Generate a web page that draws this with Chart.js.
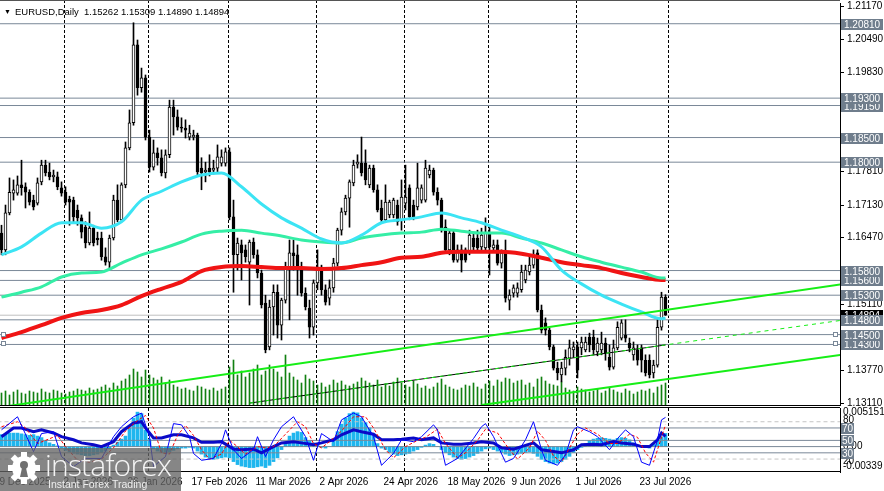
<!DOCTYPE html>
<html>
<head>
<meta charset="utf-8">
<title>EURUSD Daily</title>
<script src="https://cdn.jsdelivr.net/npm/chart.js@4.4.1/dist/chart.umd.min.js"></script>
<style>
  html, body { margin: 0; padding: 0; background: #fff; }
  #wrap { position: relative; width: 884px; height: 491px; overflow: hidden; background: #fff; font-family: "Liberation Sans", Arial, sans-serif; }
  #mainChart { position: absolute; left: 0; top: 0; }
  #subChart { position: absolute; left: 0; top: 406px; }
  #title { position: absolute; left: 4px; top: 6px; font-size: 9.5px; color: #000; white-space: pre; }
  #title .arrow { font-size: 7px; vertical-align: 1px; margin-right: 4px; }
  #logo { position: absolute; left: 0; top: 448px; width: 181px; height: 43px; background: rgba(100, 100, 100, 0.78); color: #fff; }
  #logo svg { position: absolute; left: 7px; top: 3px; }
  #logo .big { position: absolute; left: 45px; top: -4px; font-family: "Open Sans", sans-serif; font-weight: 300; font-size: 30px; letter-spacing: -0.8px; color: #f4f4f4; }
  #logo .small { position: absolute; left: 48px; top: 30px; font-size: 10.5px; color: #eee; }
</style>
</head>
<body>
<div id="wrap">
  <canvas id="mainChart" width="884" height="407"></canvas>
  <canvas id="subChart" width="884" height="85"></canvas>
  <div id="title"><span class="arrow">&#9660;</span>EURUSD,Daily  1.15262 1.15309 1.14890 1.14894</div>
  <div id="logo">
    <svg width="34" height="34" viewBox="0 0 34 34">
      <g fill="#fff" transform="translate(17 17)">
        <circle r="12"/>
        <rect x="-3" y="-16" width="6" height="6"/>
        <rect x="-3" y="10" width="6" height="6"/>
        <rect x="-16" y="-3" width="6" height="6"/>
        <rect x="10" y="-3" width="6" height="6"/>
        <rect x="-3" y="-16" width="6" height="6" transform="rotate(45)"/>
        <rect x="-3" y="10" width="6" height="6" transform="rotate(45)"/>
        <rect x="-16" y="-3" width="6" height="6" transform="rotate(45)"/>
        <rect x="10" y="-3" width="6" height="6" transform="rotate(45)"/>
      </g>
      <g fill="#707070" transform="translate(17 17)">
        <circle cy="-3" r="4"/>
        <path d="M-2 0 L2 0 L4 9 L-4 9 Z"/>
      </g>
    </svg>
    <div class="big">instaforex</div>
    <div class="small">Instant Forex Trading</div>
  </div>
</div>
<script>
// x axis: one bar per trading day, labels every 16 bars
const dateBars = [0, 16, 32, 48, 64, 80, 96, 112, 128, 144, 160];
const dateLabels = ["9 Dec 2025", "2 Jan 2026", "26 Jan 2026", "17 Feb 2026", "11 Mar 2026", "2 Apr 2026",
    "24 Apr 2026", "18 May 2026", "9 Jun 2026", "1 Jul 2026", "23 Jul 2026"];
const monthBars = [16, 37, 57, 79, 101, 122, 144, 167];

const priceTicks = [1.2117, 1.2049, 1.1983, 1.1915, 1.1849, 1.1781, 1.1713, 1.1647, 1.1579, 1.1511, 1.1445, 1.1377, 1.1311];
const levels = [1.1430, 1.1450, 1.1480, 1.1530, 1.1560, 1.1580, 1.1800, 1.1850, 1.1915, 1.1930, 1.2081];
const markedLevels = [1.1450, 1.1430];

const open = [
    1.1656, 1.1622, 1.1697, 1.1737, 1.1737, 1.1754, 1.1750, 1.1739, 1.1723, 1.1717,
    1.1760, 1.1794, 1.1780, 1.1770, 1.1770, 1.1748, 1.1739, 1.1725, 1.1723, 1.1703,
    1.1687, 1.1668, 1.1636, 1.1666, 1.1646, 1.1646, 1.1608, 1.1597, 1.1646, 1.1723,
    1.1683, 1.1754, 1.1829, 1.1880, 1.2038, 1.1951, 1.1971, 1.1851, 1.1790, 1.1819,
    1.1809, 1.1778, 1.1815, 1.1912, 1.1892, 1.1871, 1.1869, 1.1851, 1.1851, 1.1855,
    1.1788, 1.1780, 1.1788, 1.1784, 1.1788, 1.1798, 1.1798, 1.1821, 1.1689, 1.1612,
    1.1632, 1.1622, 1.1597, 1.1638, 1.1612, 1.1575, 1.1514, 1.1425, 1.1506, 1.1536,
    1.1469, 1.1520, 1.1585, 1.1616, 1.1612, 1.1587, 1.1534, 1.1504, 1.1465, 1.1555,
    1.1587, 1.1541, 1.1524, 1.1545, 1.1595, 1.1662, 1.1699, 1.1727, 1.1758, 1.1796,
    1.1798, 1.1798, 1.1754, 1.1788, 1.1744, 1.1707, 1.1683, 1.1693, 1.1693, 1.1713,
    1.1683, 1.1717, 1.1748, 1.1713, 1.1709, 1.1723, 1.1723, 1.1774, 1.1784, 1.1739,
    1.1723, 1.1668, 1.1622, 1.1656, 1.1601, 1.1622, 1.1622, 1.1618, 1.1646, 1.1646,
    1.1628, 1.1626, 1.1656, 1.1626, 1.1632, 1.1595, 1.1616, 1.1520, 1.1534, 1.1534,
    1.1541, 1.1561, 1.1577, 1.1591, 1.1616, 1.1500, 1.1474, 1.1459, 1.1425, 1.1382,
    1.1368, 1.1382, 1.1402, 1.1419, 1.1425, 1.1423, 1.1419, 1.1445, 1.1445, 1.1415,
    1.1419, 1.1433, 1.1404, 1.1384, 1.1423, 1.1443, 1.1449, 1.1433, 1.1409, 1.1419,
    1.1423, 1.1398, 1.1398, 1.1372, 1.1388, 1.1465, 1.15262
];
const high = [
    1.1672, 1.1713, 1.1768, 1.1764, 1.1772, 1.1804, 1.1758, 1.1744, 1.1733, 1.1768,
    1.1804, 1.1804, 1.1798, 1.1784, 1.1780, 1.1760, 1.1750, 1.1731, 1.1729, 1.1713,
    1.1693, 1.1679, 1.1699, 1.1672, 1.1658, 1.1658, 1.1626, 1.1652, 1.1733, 1.1754,
    1.1758, 1.1841, 1.1906, 1.2083, 1.2048, 1.1991, 1.1977, 1.1865, 1.1845, 1.1829,
    1.1825, 1.1825, 1.1926, 1.1926, 1.1906, 1.1890, 1.1886, 1.1875, 1.1865, 1.1859,
    1.1809, 1.1800, 1.1815, 1.1804, 1.1835, 1.1825, 1.1829, 1.1829, 1.1723, 1.1646,
    1.1642, 1.1632, 1.1642, 1.1646, 1.1622, 1.1581, 1.1530, 1.1520, 1.1551, 1.1551,
    1.1524, 1.1597, 1.1642, 1.1642, 1.1632, 1.1597, 1.1545, 1.1520, 1.1561, 1.1622,
    1.1591, 1.1551, 1.1561, 1.1605, 1.1666, 1.1707, 1.1733, 1.1764, 1.1804, 1.1815,
    1.1851, 1.1825, 1.1794, 1.1794, 1.1754, 1.1723, 1.1754, 1.1723, 1.1727, 1.1723,
    1.1764, 1.1794, 1.1754, 1.1723, 1.1798, 1.1754, 1.1804, 1.1794, 1.1788, 1.1748,
    1.1727, 1.1683, 1.1662, 1.1662, 1.1632, 1.1632, 1.1626, 1.1662, 1.1658, 1.1662,
    1.1666, 1.1687, 1.1672, 1.1642, 1.1642, 1.1622, 1.1642, 1.1541, 1.1551, 1.1555,
    1.1591, 1.1591, 1.1612, 1.1622, 1.1622, 1.1510, 1.1484, 1.1463, 1.1429, 1.1394,
    1.1394, 1.1419, 1.1439, 1.1435, 1.1435, 1.1445, 1.1445, 1.1453, 1.1459, 1.1443,
    1.1455, 1.1443, 1.1429, 1.1439, 1.1476, 1.1480, 1.1480, 1.1443, 1.1435, 1.1429,
    1.1429, 1.1409, 1.1409, 1.1398, 1.1480, 1.1536, 1.15309
];
const low = [
    1.1612, 1.1612, 1.1693, 1.1723, 1.1733, 1.1733, 1.1707, 1.1713, 1.1703, 1.1713,
    1.1754, 1.1772, 1.1764, 1.1760, 1.1744, 1.1731, 1.1713, 1.1672, 1.1679, 1.1672,
    1.1646, 1.1626, 1.1632, 1.1630, 1.1632, 1.1601, 1.1591, 1.1585, 1.1642, 1.1679,
    1.1679, 1.1748, 1.1825, 1.1875, 1.1936, 1.1942, 1.1845, 1.1780, 1.1784, 1.1794,
    1.1772, 1.1768, 1.1809, 1.1855, 1.1865, 1.1861, 1.1849, 1.1845, 1.1845, 1.1774,
    1.1744, 1.1760, 1.1772, 1.1776, 1.1780, 1.1792, 1.1792, 1.1683, 1.1536, 1.1581,
    1.1561, 1.1597, 1.1510, 1.1605, 1.1565, 1.1504, 1.1413, 1.1419, 1.1449, 1.1443,
    1.1439, 1.1514, 1.1480, 1.1581, 1.1530, 1.1528, 1.1500, 1.1443, 1.1449, 1.1541,
    1.1530, 1.1510, 1.1510, 1.1536, 1.1589, 1.1652, 1.1693, 1.1668, 1.1752, 1.1788,
    1.1772, 1.1754, 1.1748, 1.1739, 1.1699, 1.1679, 1.1679, 1.1687, 1.1687, 1.1672,
    1.1662, 1.1703, 1.1683, 1.1683, 1.1703, 1.1717, 1.1719, 1.1768, 1.1733, 1.1713,
    1.1658, 1.1616, 1.1612, 1.1597, 1.1597, 1.1577, 1.1597, 1.1612, 1.1622, 1.1622,
    1.1622, 1.1622, 1.1571, 1.1622, 1.1591, 1.1585, 1.1516, 1.1500, 1.1526, 1.1526,
    1.1536, 1.1555, 1.1571, 1.1585, 1.1496, 1.1453, 1.1449, 1.1419, 1.1378, 1.1358,
    1.1354, 1.1368, 1.1388, 1.1404, 1.1362, 1.1409, 1.1415, 1.1415, 1.1409, 1.1407,
    1.1409, 1.1398, 1.1378, 1.1380, 1.1419, 1.1439, 1.1435, 1.1415, 1.1398, 1.1388,
    1.1374, 1.1366, 1.1362, 1.1362, 1.1384, 1.1459, 1.14890
];
const close = [
    1.1622, 1.1697, 1.1739, 1.1744, 1.1754, 1.1748, 1.1739, 1.1719, 1.1709, 1.1758,
    1.1794, 1.1778, 1.1770, 1.1774, 1.1750, 1.1737, 1.1719, 1.1719, 1.1689, 1.1687,
    1.1658, 1.1636, 1.1666, 1.1636, 1.1642, 1.1608, 1.1597, 1.1646, 1.1723, 1.1683,
    1.1754, 1.1829, 1.1880, 1.2038, 1.1951, 1.1971, 1.1851, 1.1790, 1.1819, 1.1809,
    1.1778, 1.1815, 1.1912, 1.1892, 1.1871, 1.1869, 1.1865, 1.1859, 1.1855, 1.1780,
    1.1778, 1.1784, 1.1780, 1.1788, 1.1811, 1.1811, 1.1821, 1.1689, 1.1612, 1.1636,
    1.1616, 1.1608, 1.1638, 1.1612, 1.1575, 1.1510, 1.1419, 1.1506, 1.1536, 1.1469,
    1.1520, 1.1585, 1.1616, 1.1610, 1.1587, 1.1534, 1.1506, 1.1465, 1.1555, 1.1587,
    1.1541, 1.1516, 1.1545, 1.1595, 1.1662, 1.1699, 1.1727, 1.1760, 1.1794, 1.1800,
    1.1778, 1.1764, 1.1788, 1.1744, 1.1703, 1.1683, 1.1719, 1.1719, 1.1723, 1.1679,
    1.1729, 1.1729, 1.1689, 1.1689, 1.1748, 1.1748, 1.1788, 1.1784, 1.1739, 1.1723,
    1.1662, 1.1622, 1.1656, 1.1601, 1.1622, 1.1601, 1.1601, 1.1652, 1.1628, 1.1626,
    1.1652, 1.1656, 1.1628, 1.1632, 1.1595, 1.1616, 1.1524, 1.1530, 1.1545, 1.1545,
    1.1577, 1.1581, 1.1591, 1.1612, 1.1500, 1.1459, 1.1459, 1.1425, 1.1382, 1.1372,
    1.1382, 1.1404, 1.1423, 1.1425, 1.1378, 1.1435, 1.1435, 1.1429, 1.1419, 1.1433,
    1.1433, 1.1413, 1.1384, 1.1423, 1.1465, 1.1474, 1.1443, 1.1423, 1.1423, 1.1398,
    1.1398, 1.1372, 1.1368, 1.1388, 1.1465, 1.1526, 1.14894
];
// tick volume, thousands
const volume = [
    60, 70, 50, 65, 75, 60, 55, 70, 65, 60, 80,
    65, 60, 75, 70, 60, 55, 65, 70, 80, 75,
    70, 85, 75, 80, 90, 100, 85, 110, 95, 120,
    130, 150, 180, 165, 140, 175, 150, 135, 125, 140,
    110, 125, 100, 90, 80, 85, 75, 70, 95, 90,
    80, 75, 85, 70, 80, 90, 190, 225, 150, 170,
    140, 160, 180, 200, 150, 170, 200, 180, 165, 140,
    250, 160, 140, 125, 110, 150, 130, 120, 100, 110,
    90, 100, 125, 110, 120, 100, 95, 105, 115, 135,
    120, 110, 100, 125, 90, 105, 95, 115, 135, 110,
    100, 90, 120, 105, 85, 95, 80, 90, 110, 130,
    100, 90, 80, 75, 85, 100, 95, 110, 90, 80,
    105, 120, 95, 125, 115, 135, 130, 110, 120, 125,
    100, 110, 90, 130, 140, 120, 105, 100, 95, 115,
    85, 75, 70, 90, 80, 75, 65, 70, 80, 60,
    70, 85, 75, 65, 60, 80, 70, 55, 65, 75,
    70, 80, 60, 90, 100, 110
];

// moving averages, sampled every 5 bars
const maBars = [0, 5, 10, 15, 20, 25, 30, 35, 40, 45, 50, 55, 60, 65, 70, 75, 80, 85, 90, 95,
    100, 105, 110, 115, 120, 125, 130, 135, 140, 145, 150, 155, 160, 165, 166];
const maFast = [1.1612, 1.1628, 1.1656, 1.1677, 1.1677, 1.1666, 1.1679, 1.1723, 1.1741, 1.1760,
    1.1774, 1.1778, 1.1750, 1.1715, 1.1687, 1.1666, 1.1644, 1.1636, 1.1652, 1.1677,
    1.1683, 1.1689, 1.1697, 1.1687, 1.1677, 1.1662, 1.1648, 1.1628, 1.1581, 1.1553,
    1.1530, 1.1512, 1.1496, 1.1482, 1.1484];
const maMid = [1.1526, 1.1536, 1.1547, 1.1567, 1.1575, 1.1577, 1.1595, 1.1612, 1.1624, 1.1638,
    1.1654, 1.1660, 1.1662, 1.1656, 1.1650, 1.1642, 1.1638, 1.1636, 1.1646, 1.1652,
    1.1656, 1.1658, 1.1664, 1.1660, 1.1656, 1.1656, 1.1646, 1.1636, 1.1622, 1.1608,
    1.1597, 1.1587, 1.1577, 1.1565, 1.1565];
const maSlow = [1.1443, 1.1455, 1.1469, 1.1484, 1.1494, 1.1500, 1.1510, 1.1528, 1.1543, 1.1557,
    1.1579, 1.1587, 1.1589, 1.1587, 1.1585, 1.1585, 1.1583, 1.1585, 1.1591, 1.1597,
    1.1606, 1.1608, 1.1616, 1.1618, 1.1618, 1.1618, 1.1614, 1.1606, 1.1597, 1.1591,
    1.1585, 1.1575, 1.1567, 1.1561, 1.1561];

// trend channel lines (bar, price end points)
const trendUpperBars = [0, 210];
const trendUpperPrices = [1.1303, 1.1552];
const trendLowerBars = [120, 210];
const trendLowerPrices = [1.1307, 1.1409];
const trendMidBars = [62, 210];
const trendMidPrices = [1.1311, 1.1479];
const trendMidHistBars = [62, 166];
const trendMidHistPrices = [1.1311, 1.1429];

// OsMA(12,26,9) per bar
const osma = [
    0.0016, 0.0017, 0.0018, 0.0018, 0.0018, 0.0017, 0.0016, 0.0015, 0.0016, 0.0014,
    0.0012, 0.0008, 0.0005, 0.0003, 0.0001, -0.0002, -0.0005, -0.0007, -0.0009, -0.0010,
    -0.0011, -0.0012, -0.0012, -0.0011, -0.0010, -0.0008, -0.0006, -0.0003, 0.0002, 0.0006,
    0.0010, 0.0014, 0.0025, 0.0038, 0.0046, 0.0044, 0.0022, 0.0010, -0.0003, -0.0006,
    -0.0008, -0.0009, -0.0007, -0.0005, -0.0003, -0.0002, -0.0002, -0.0001, -0.0002, -0.0006,
    -0.0010, -0.0014, -0.0016, -0.0017, -0.0016, -0.0015, -0.0014, -0.0015, -0.0020, -0.0024,
    -0.0026, -0.0027, -0.0028, -0.0028, -0.0027, -0.0026, -0.0028, -0.0025, -0.0020, -0.0015,
    -0.0004, 0.0006, 0.0014, 0.0018, 0.0020, 0.0019, 0.0012, 0.0008, 0.0005, 0.0002,
    -0.0001, -0.0002, 0.0000, 0.0010, 0.0020, 0.0030, 0.0038, 0.0044, 0.0046, 0.0045,
    0.0038, 0.0032, 0.0025, 0.0014, 0.0004, -0.0002, -0.0004, -0.0008, -0.0010, -0.0012,
    -0.0011, -0.0010, -0.0009, -0.0006, -0.0004, -0.0001, 0.0002, 0.0004, 0.0003, 0.0000,
    -0.0004, -0.0008, -0.0011, -0.0014, -0.0016, -0.0017, -0.0016, -0.0014, -0.0012, -0.0009,
    -0.0006, -0.0003, -0.0002, -0.0004, -0.0006, -0.0008, -0.0010, -0.0012, -0.0011, -0.0010,
    -0.0009, -0.0008, -0.0007, -0.0009, -0.0013, -0.0017, -0.0020, -0.0022, -0.0023, -0.0022,
    -0.0020, -0.0017, -0.0013, -0.0008, -0.0004, -0.0001, 0.0004, 0.0008, 0.0010, 0.0011,
    0.0012, 0.0011, 0.0010, 0.0009, 0.0011, 0.0012, 0.0011, 0.0009, 0.0005, 0.0002,
    0.0000, -0.0001, -0.0002, 0.0003, 0.0008, 0.0013, 0.0017584
];

// RSI(14)
const rsiBars = [0, 3, 5, 8, 10, 13, 15, 18, 20, 23, 25, 28, 30, 33, 35, 36,
    38, 40, 43, 45, 48, 50, 53, 55, 58, 60, 63, 65, 68, 70, 73, 75, 78, 80, 83, 85, 88, 90, 93, 95,
    98, 100, 103, 105, 108, 110, 113, 115, 118, 120, 123, 125, 128, 130, 133, 135, 138, 140, 143, 145,
    148, 150, 153, 155, 158, 160, 162, 164, 165, 166];
const rsiVals = [56, 70, 70, 64, 67, 62, 56, 51, 46, 43, 40, 48, 64, 78, 80, 70,
    54, 54, 59, 59, 54, 47, 47, 48, 36, 35, 36, 30, 40, 46, 48, 46, 43, 46, 51, 59, 67, 64, 60, 51,
    51, 52, 54, 51, 54, 46, 44, 44, 46, 48, 46, 38, 36, 40, 46, 35, 32, 30, 35, 43,
    44, 43, 48, 46, 44, 40, 40, 51, 62, 56.5126];

// Stochastic(5,3,3)
const stochBars = [0, 4, 8, 10, 13, 15, 18, 21, 25, 28, 30, 32, 33, 35, 37, 38, 41, 43, 45, 47,
    48, 50, 53, 55, 56, 58, 60, 63, 64, 66, 68, 70, 73, 74, 76, 78, 80, 83, 85, 88,
    90, 93, 95, 98, 100, 103, 105, 108, 109, 111, 114, 118, 120, 121, 123, 126, 128, 131, 133, 135,
    136, 139, 141, 143, 144, 147, 149, 152, 154, 156, 158, 160, 162, 164, 165, 166];
const stochMain = [67, 88, 32, 61, 64, 24, 8, 21, 21, 56, 72, 83, 88, 94, 56, 8, 24, 77, 75, 56,
    29, 18, 21, 45, 67, 35, 21, 35, 56, 24, 51, 72, 88, 77, 56, 18, 61, 48, 83, 94,
    88, 56, 10, 29, 51, 48, 56, 75, 67, 10, 21, 53, 72, 77, 56, 15, 21, 51, 80, 35,
    18, 10, 27, 67, 72, 64, 56, 35, 53, 67, 56, 15, 10, 51, 83, 87.0023];
const signalBars = [0, 4, 6, 9, 11, 14, 16, 19, 22, 25, 28, 31, 34, 36, 38, 40, 42, 44, 46, 48,
    50, 52, 55, 57, 59, 61, 64, 66, 68, 71, 74, 76, 78, 80, 82, 85, 88, 91, 93, 96,
    98, 101, 104, 106, 109, 111, 114, 116, 119, 121, 124, 127, 129, 132, 134, 136, 138, 140, 142, 144,
    146, 149, 152, 154, 157, 159, 161, 163, 165, 166];
const stochSignal = [72, 80, 70, 45, 50, 58, 40, 18, 15, 20, 38, 65, 82, 90, 70, 30, 28, 58, 74, 58,
    35, 20, 28, 50, 40, 28, 40, 38, 40, 60, 80, 72, 45, 38, 48, 65, 88, 88, 70, 35,
    22, 40, 50, 55, 68, 45, 22, 30, 50, 68, 62, 35, 20, 38, 65, 50, 25, 15, 38, 60,
    70, 60, 45, 45, 60, 55, 30, 15, 55, 75.0657];

const oscLevels = [80, 70, 50, 30, 20];
const osmaMax = 0.0051514;
const osmaMin = -0.00339;

const FONT = '10px "Liberation Sans", Arial, sans-serif';
const fontSpec = { family: '"Liberation Sans", Arial, sans-serif', size: 10 };
const LEVEL_COLOR = '#7a8898';
const TAG_COLOR = '#6f7d8c';

const pts = (xs, ys) => xs.map((x, i) => ({ x: x, y: ys[i] }));
const hline = (v, color, dash) => ({
    type: 'line', data: [{ x: -1, y: v }, { x: 211, y: v }],
    borderColor: color, borderWidth: 1, borderDash: dash || [], pointRadius: 0
});

const lastClose = close[close.length - 1];

const mainDecor = {
    id: 'mainDecor',
    beforeDatasetsDraw(chart) {
        const { ctx, chartArea: a, scales: { x } } = chart;
        ctx.save();
        ctx.strokeStyle = '#000';
        ctx.lineWidth = 1;
        ctx.setLineDash([3, 2]);
        monthBars.forEach(b => {
            const px = Math.round(x.getPixelForValue(b) - 1.5) + 0.5;
            ctx.beginPath(); ctx.moveTo(px, 0); ctx.lineTo(px, a.bottom); ctx.stroke();
        });
        ctx.restore();
    },
    afterDraw(chart) {
        const { ctx, chartArea: a, scales: { y } } = chart;
        ctx.save();
        ctx.strokeStyle = '#000';
        ctx.lineWidth = 1;
        ctx.beginPath(); ctx.moveTo(0, a.bottom + 0.5); ctx.lineTo(a.right, a.bottom + 0.5); ctx.stroke();
        ctx.strokeStyle = '#555';
        ctx.beginPath(); ctx.moveTo(0, 0.5); ctx.lineTo(a.right, 0.5); ctx.stroke();

        // anchor squares of the horizontal lines
        ctx.strokeStyle = LEVEL_COLOR;
        ctx.fillStyle = '#fff';
        markedLevels.forEach(v => {
            const py = Math.round(y.getPixelForValue(v));
            [1.5, a.right - 6.5].forEach(px => {
                ctx.fillRect(px, py - 2.5, 4, 4);
                ctx.strokeRect(px, py - 2.5, 4, 4);
            });
        });

        // price tags on the right axis
        ctx.font = FONT;
        ctx.textBaseline = 'middle';
        const tag = (v, bg) => {
            const py = Math.round(y.getPixelForValue(v));
            ctx.fillStyle = bg;
            ctx.fillRect(a.right + 1, py - 5, 42, 11);
            ctx.fillStyle = '#fff';
            ctx.fillText(v.toFixed(5), a.right + 4, py + 1);
        };
        tag(lastClose, '#000');
        levels.forEach(v => tag(v, TAG_COLOR));
        ctx.restore();
    }
};

new Chart(document.getElementById('mainChart'), {
    type: 'line',
    data: {
        datasets: [
            {
                type: 'bar', label: 'Body', order: 0, grouped: false,
                data: open.map((o, i) => ({ x: i, y: [o, close[i]] })),
                backgroundColor: c => (close[c.dataIndex] >= open[c.dataIndex] ? '#fff' : '#000'),
                borderColor: '#000', borderWidth: 1, borderSkipped: false, barThickness: 3
            },
            {
                type: 'bar', label: 'Wick', order: 1, grouped: false,
                data: low.map((l, i) => ({ x: i, y: [l, high[i]] })),
                backgroundColor: '#000', barThickness: 1
            },
            { type: 'line', label: 'MA fast', order: -3, data: pts(maBars, maFast), borderColor: '#3ce4f4', borderWidth: 3, pointRadius: 0, cubicInterpolationMode: 'monotone' },
            { type: 'line', label: 'MA mid', order: -2, data: pts(maBars, maMid), borderColor: '#35eea6', borderWidth: 3, pointRadius: 0, cubicInterpolationMode: 'monotone' },
            { type: 'line', label: 'MA slow', order: -1, data: pts(maBars, maSlow), borderColor: '#f01414', borderWidth: 4, pointRadius: 0, cubicInterpolationMode: 'monotone' },
            { type: 'line', label: 'Trend upper', order: -4, data: pts(trendUpperBars, trendUpperPrices), borderColor: '#16ee16', borderWidth: 2, pointRadius: 0 },
            { type: 'line', label: 'Trend lower', order: -4, data: pts(trendLowerBars, trendLowerPrices), borderColor: '#16ee16', borderWidth: 2, pointRadius: 0 },
            { type: 'line', label: 'Trend mid', order: -5, data: pts(trendMidHistBars, trendMidHistPrices), borderColor: '#000', borderWidth: 1, pointRadius: 0 },
            { type: 'line', label: 'Trend mid ext', order: -6, data: pts(trendMidBars, trendMidPrices), borderColor: '#16ee16', borderWidth: 1, borderDash: [4, 4], pointRadius: 0 },
            ...levels.map(v => Object.assign(hline(v, LEVEL_COLOR), { order: 5 })),
            Object.assign(hline(lastClose, '#c0c0c0'), { order: 6 }),
            {
                type: 'bar', label: 'Volume', order: 10, grouped: false, yAxisID: 'vol',
                data: volume.map((v, i) => ({ x: i, y: v })),
                backgroundColor: '#118011', barThickness: 1
            }
        ]
    },
    options: {
        responsive: false,
        animation: false,
        devicePixelRatio: 1,
        layout: { padding: { top: 3, bottom: 2, left: 0, right: 0 } },
        plugins: { legend: { display: false }, tooltip: { enabled: false } },
        scales: {
            x: { type: 'linear', min: -0.375, max: 209.625, display: false, offset: false },
            y: {
                position: 'right', min: 1.13071, max: 1.21231,
                afterBuildTicks: s => { s.ticks = priceTicks.map(v => ({ value: v })); },
                afterFit: s => { s.width = 44; s.paddingTop = 0; s.paddingBottom = 0; },
                ticks: { callback: v => v.toFixed(5), color: '#000', font: fontSpec, padding: 3, autoSkip: false },
                grid: { drawOnChartArea: false, drawTicks: true, tickLength: 4, color: '#000' },
                border: { display: true, color: '#000' }
            },
            vol: { display: false, min: 0, max: 2010 }
        }
    },
    plugins: [mainDecor]
});

const subDecor = {
    id: 'subDecor',
    beforeDatasetsDraw(chart) {
        const { ctx, chartArea: a, scales: { x } } = chart;
        ctx.save();
        ctx.strokeStyle = '#000';
        ctx.lineWidth = 1;
        ctx.setLineDash([3, 2]);
        monthBars.forEach(b => {
            const px = Math.round(x.getPixelForValue(b) - 1.5) + 0.5;
            ctx.beginPath(); ctx.moveTo(px, a.top); ctx.lineTo(px, a.bottom); ctx.stroke();
        });
        ctx.restore();
    },
    afterDraw(chart) {
        const { ctx, chartArea: a, scales: { osc, osma: om } } = chart;
        ctx.save();
        ctx.strokeStyle = '#000';
        ctx.lineWidth = 1;
        ctx.beginPath(); ctx.moveTo(0, a.top - 0.5); ctx.lineTo(a.right, a.top - 0.5); ctx.stroke();
        ctx.beginPath(); ctx.moveTo(0, a.bottom - 0.5); ctx.lineTo(a.right, a.bottom - 0.5); ctx.stroke();

        ctx.font = FONT;
        ctx.textBaseline = 'middle';
        ctx.fillStyle = '#000';
        ctx.fillText(osmaMax.toFixed(7), a.right + 3, om.getPixelForValue(osmaMax) + 4);
        ctx.fillText('80', a.right + 3, osc.getPixelForValue(80) - 1);
        ctx.fillText('20', a.right + 3, osc.getPixelForValue(20) + 2);
        ctx.fillText('0.00', a.right + 3, om.getPixelForValue(0));
        ctx.fillText(osmaMin.toFixed(5), a.right + 3, om.getPixelForValue(osmaMin) - 6);
        [70, 50, 30].forEach(v => {
            const py = Math.round(osc.getPixelForValue(v));
            ctx.fillStyle = TAG_COLOR;
            ctx.fillRect(a.right + 1, py - 5, 13, 11);
            ctx.fillStyle = '#fff';
            ctx.fillText(String(v), a.right + 2, py + 1);
        });
        ctx.restore();
    }
};

new Chart(document.getElementById('subChart'), {
    type: 'line',
    data: {
        datasets: [
            { type: 'line', label: 'Stoch main', order: 0, yAxisID: 'osc', data: pts(stochBars, stochMain), borderColor: '#0000ff', borderWidth: 1, pointRadius: 0 },
            { type: 'line', label: 'Stoch signal', order: 1, yAxisID: 'osc', data: pts(signalBars, stochSignal), borderColor: '#ff0000', borderWidth: 1, borderDash: [3, 2], pointRadius: 0 },
            { type: 'line', label: 'RSI', order: 2, yAxisID: 'osc', data: pts(rsiBars, rsiVals), borderColor: '#0a0ac8', borderWidth: 3, pointRadius: 0 },
            ...oscLevels.map(v => Object.assign(hline(v, (v === 80 || v === 20) ? '#c4c4c4' : LEVEL_COLOR, (v === 80 || v === 20) ? [4, 3] : []), { order: 3, yAxisID: 'osc' })),
            Object.assign(hline(0, LEVEL_COLOR), { order: 3, yAxisID: 'osma' }),
            {
                type: 'bar', label: 'OsMA', order: 5, grouped: false, yAxisID: 'osma',
                data: osma.map((v, i) => ({ x: i, y: v })),
                backgroundColor: '#1fb6ee', barThickness: 3
            }
        ]
    },
    options: {
        responsive: false,
        animation: false,
        devicePixelRatio: 1,
        layout: { padding: { top: 2, bottom: 0, left: 0, right: 0 } },
        plugins: { legend: { display: false }, tooltip: { enabled: false } },
        scales: {
            x: {
                type: 'linear', min: -0.375, max: 209.625, offset: false, position: 'bottom',
                afterBuildTicks: s => { s.ticks = dateBars.map(v => ({ value: v })); },
                afterFit: s => { s.height = 19; s.paddingLeft = 0; s.paddingRight = 0; },
                ticks: {
                    callback: (v, i) => dateLabels[i], autoSkip: false, maxRotation: 0, minRotation: 0,
                    align: 'start', labelOffset: -2, padding: 4, color: '#000', font: fontSpec
                },
                grid: { display: false, drawTicks: false },
                border: { display: false }
            },
            osc: {
                position: 'right', min: -0.8, max: 102.1,
                ticks: { display: false },
                grid: { drawOnChartArea: false, drawTicks: false },
                border: { display: true, color: '#000' },
                afterFit: s => { s.width = 44; s.paddingTop = 0; s.paddingBottom = 0; }
            },
            osma: { display: false, min: osmaMin, max: osmaMax }
        }
    },
    plugins: [subDecor]
});
</script>
</body>
</html>
